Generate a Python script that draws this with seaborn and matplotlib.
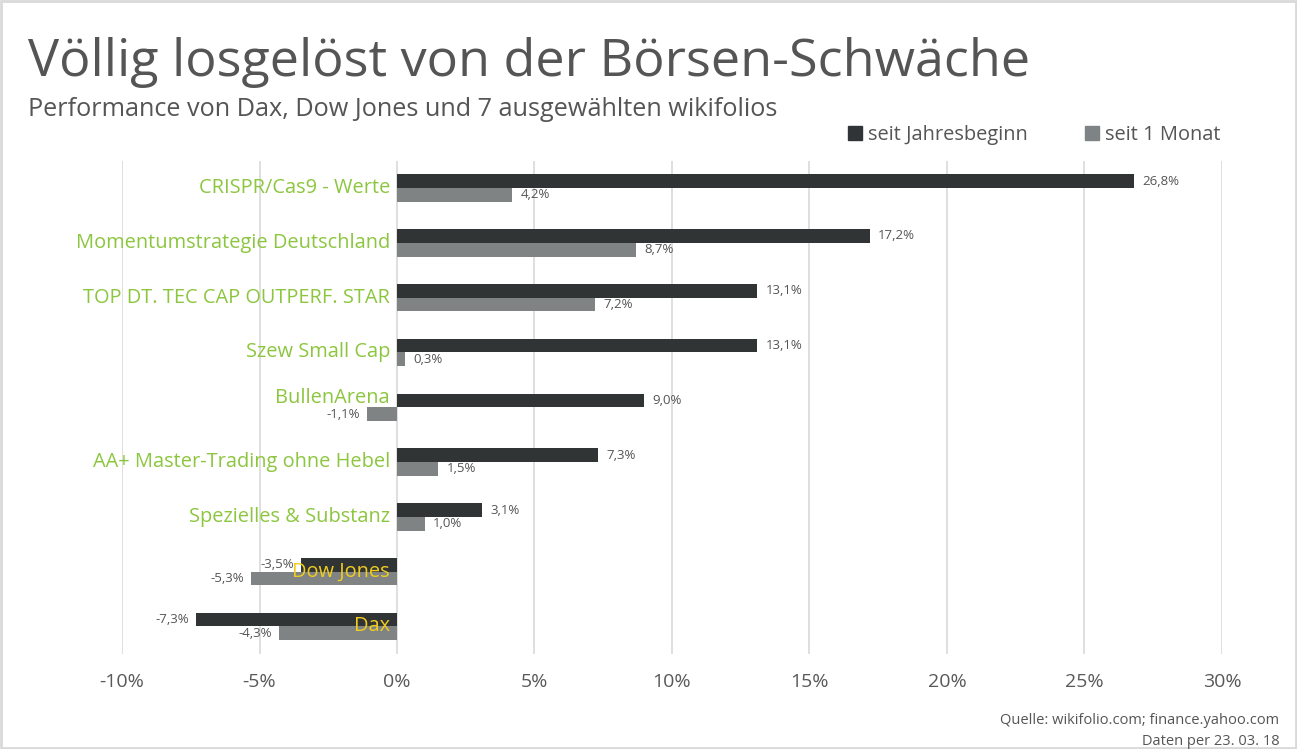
import pandas as pd
import matplotlib.pyplot as plt
import seaborn as sns
from matplotlib.patches import Rectangle
from matplotlib.lines import Line2D

# Data
names = ["CRISPR/Cas9 - Werte", "Momentumstrategie Deutschland", "TOP DT. TEC CAP OUTPERF. STAR",
         "Szew Small Cap", "BullenArena", "AA+ Master-Trading ohne Hebel",
         "Spezielles & Substanz", "Dow Jones", "Dax"]
is_index = [False, False, False, False, False, False, False, True, True]
ytd = [26.8, 17.2, 13.1, 13.1, 9.0, 7.3, 3.1, -3.5, -7.3]
month = [4.2, 8.7, 7.2, 0.3, -1.1, 1.5, 1.0, -5.3, -4.3]
series = ["seit Jahresbeginn", "seit 1 Monat"]
xticks = [-10, -5, 0, 5, 10, 15, 20, 25, 30]

DARK = "#303436"
GRAY = "#7e8385"
GREEN = "#8cc63f"
YELLOW = "#f2cd1e"
TXT = "#555555"

df = pd.concat([
    pd.DataFrame({"name": names, "value": ytd, "period": series[0]}),
    pd.DataFrame({"name": names, "value": month, "period": series[1]}),
])

sns.set_theme(style="white")
plt.rcParams["font.family"] = ["Open Sans", "DejaVu Sans"]

fig = plt.figure(figsize=(12.97, 7.49), dpi=100)
ax = fig.add_axes([0.0941, 0.1270, 0.848, 0.6586])

sns.barplot(data=df, y="name", x="value", hue="period", order=names, hue_order=series,
            palette=[DARK, GRAY], width=0.5, linewidth=0, orient="h", ax=ax, legend=False)

ax.set_xlim(-10, 30)
ax.set_ylim(len(names) - 0.5, -0.5)
ax.set_xticks(xticks)
ax.set_xticklabels([f"{t}%" for t in xticks], color="#595959", fontsize=14)
ax.tick_params(axis="x", length=0, pad=14)
ax.set_yticks([])
ax.set_xlabel("")
ax.set_ylabel("")
for s in ax.spines.values():
    s.set_visible(False)
ax.grid(axis="x", color="#d9d9d9", lw=1.2)
ax.set_axisbelow(True)

# value labels
for container in ax.containers:
    for bar in container:
        w = bar.get_width()
        yc = bar.get_y() + bar.get_height() / 2
        lbl = f"{w:.1f}%".replace(".", ",")
        if w >= 0:
            ax.annotate(lbl, (w, yc), xytext=(6, 0), textcoords="offset points",
                        ha="left", va="center", fontsize=9.5, color=TXT)
        else:
            ax.annotate(lbl, (w, yc), xytext=(-5, 0), textcoords="offset points",
                        ha="right", va="center", fontsize=9.5, color=TXT)

# category labels next to zero line
for i, (n, idx) in enumerate(zip(names, is_index)):
    yy = i
    if month[i] < 0 and not idx:
        yy = i - 0.17
    ax.annotate(n, (0, yy), xytext=(-5, 0), textcoords="offset points", ha="right",
                va="center", fontsize=14.4, color=YELLOW if idx else GREEN, zorder=5)

# titles
fig.text(0.0216, 0.899, "Völlig losgelöst von der Börsen-Schwäche", fontsize=37.5,
         color=TXT, va="baseline")
fig.text(0.0216, 0.845, "Performance von Dax, Dow Jones und 7 ausgewählten wikifolios",
         fontsize=18.2, color=TXT, va="baseline")

# legend
handles = [Line2D([], [], marker="s", ls="", color=DARK, markersize=9.5),
           Line2D([], [], marker="s", ls="", color=GRAY, markersize=9.5)]
fig.legend(handles, series, loc="center right", bbox_to_anchor=(0.955, 0.82), ncol=2,
           frameon=False, fontsize=14.4, labelcolor=TXT, handletextpad=0.15,
           columnspacing=2.7, handlelength=1.0)

# footer
fig.text(0.9865, 0.034, "Quelle: wikifolio.com; finance.yahoo.com", ha="right",
         fontsize=10.5, color=TXT)
fig.text(0.9865, 0.006, "Daten per 23. 03. 18", ha="right", fontsize=10.5, color=TXT)

# frame
fig.patches.append(Rectangle((0.001, 0.001), 0.998, 0.997, transform=fig.transFigure,
                             fill=False, ec="#d9d9d9", lw=2))

fig.savefig("out.png", dpi=100)
